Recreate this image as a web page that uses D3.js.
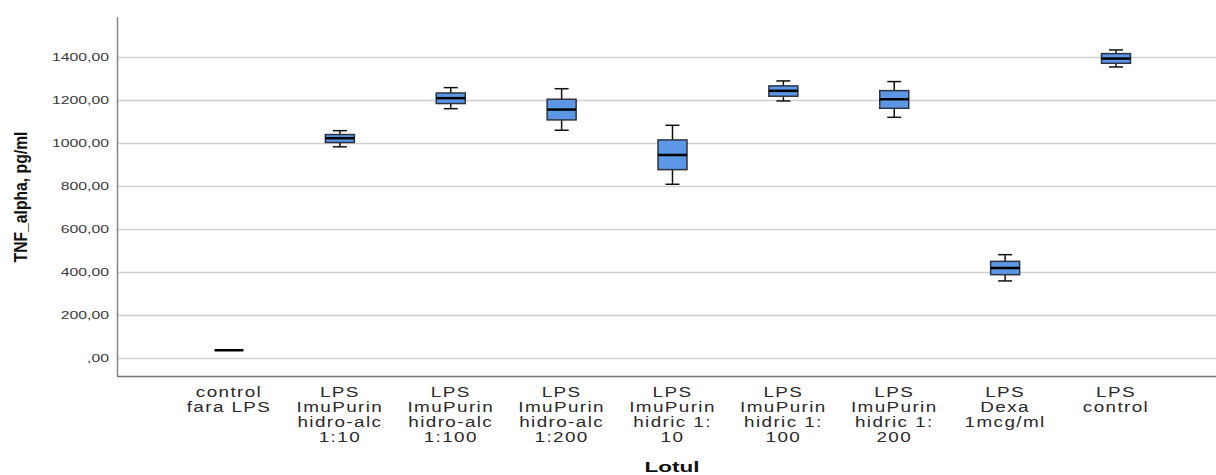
<!DOCTYPE html>
<html>
<head>
<meta charset="utf-8">
<script src="https://cdn.jsdelivr.net/npm/d3@7"></script>
<style>
    body { margin: 0; background: #fff; }
    .tick-label { font-family: "Liberation Sans", Arial, sans-serif; font-size: 11.5px; fill: #3a3a3a; }
    .cat-label { font-family: "Liberation Sans", Arial, sans-serif; font-size: 15px; fill: #2a2a2a; letter-spacing: 1.1px; }
    .axis-title { font-family: "Liberation Sans", Arial, sans-serif; font-weight: bold; fill: #111; }
</style>
</head>
<body>
<div id="chart"></div>
<script>
// categories (each label split into lines as in the picture)
const categories = [
    ["control", "fara LPS"],
    ["LPS", "ImuPurin", "hidro-alc", "1:10"],
    ["LPS", "ImuPurin", "hidro-alc", "1:100"],
    ["LPS", "ImuPurin", "hidro-alc", "1:200"],
    ["LPS", "ImuPurin", "hidric 1:", "10"],
    ["LPS", "ImuPurin", "hidric 1:", "100"],
    ["LPS", "ImuPurin", "hidric 1:", "200"],
    ["LPS", "Dexa", "1mcg/ml"],
    ["LPS", "control"]
];

// box plot statistics
const whiskerLow  = [36, 981, 1158, 1058, 807, 1194, 1118, 358, 1352];
const q1          = [36, 1001, 1182, 1106, 875, 1216, 1160, 387, 1369];
const median      = [36, 1021, 1207, 1154, 943, 1241, 1202, 418, 1391];
const q3          = [36, 1038, 1231, 1202, 1013, 1264, 1242, 449, 1414];
const whiskerHigh = [36, 1056, 1256, 1251, 1081, 1287, 1284, 480, 1431];

const yTicks = [0, 200, 400, 600, 800, 1000, 1200, 1400];
const yLabel = "TNF_alpha, pg/ml";
const xLabel = "Lotul";

const W = 1216, H = 475;
const margin = { top: 17, right: 0, bottom: 99, left: 117 };
const width = W - margin.left - margin.right;
const height = H - margin.top - margin.bottom;

// the original renders its text horizontally stretched
const tickStretch = 1.37, catStretch = 1.26;

const svg = d3.select("#chart").append("svg")
    .attr("width", W)
    .attr("height", H);

const g = svg.append("g")
    .attr("transform", "translate(" + margin.left + "," + margin.top + ")");

const keys = categories.map(c => c.join(" "));
const data = keys.map((k, i) => ({
    key: k, lines: categories[i],
    lo: whiskerLow[i], q1: q1[i], med: median[i], q3: q3[i], hi: whiskerHigh[i]
}));

const x = d3.scalePoint()
    .domain(keys)
    .range([112, 999]);

const y = d3.scaleLinear()
    .domain([-83.6, 1584])
    .range([height, 0]);

// gridlines
g.append("g").selectAll("line")
    .data(yTicks)
    .enter().append("line")
    .attr("x1", 0).attr("x2", width)
    .attr("y1", d => Math.round(y(d)) + 0.5)
    .attr("y2", d => Math.round(y(d)) + 0.5)
    .attr("stroke", "#d0d0d0")
    .attr("stroke-width", 1.5);

// y axis (labels only, no tick marks)
const yAxis = d3.axisLeft(y)
    .tickValues(yTicks)
    .tickSize(0)
    .tickPadding(8)
    .tickFormat(d => d === 0 ? ",00" : d + ",00");

const yg = g.append("g").call(yAxis);
yg.select(".domain").remove();
yg.selectAll("text")
    .attr("class", "tick-label")
    .attr("font-family", null).attr("font-size", null)
    .attr("x", -8 / tickStretch)
    .attr("transform", "scale(" + tickStretch + ",1)");

// axis lines
g.append("line")
    .attr("x1", 0.5).attr("x2", 0.5)
    .attr("y1", 0).attr("y2", height)
    .attr("stroke", "#888").attr("stroke-width", 1.5);
g.append("line")
    .attr("x1", 0).attr("x2", width)
    .attr("y1", height + 0.5).attr("y2", height + 0.5)
    .attr("stroke", "#777").attr("stroke-width", 1.5);

// boxes
const boxW = 29, capW = 14;
const boxes = g.append("g").selectAll("g.box")
    .data(data)
    .enter().append("g")
    .attr("class", "box")
    .attr("transform", d => "translate(" + x(d.key) + ",0)");

boxes.filter(d => d.hi > d.lo).append("line")
    .attr("x1", 0).attr("x2", 0)
    .attr("y1", d => y(d.hi)).attr("y2", d => y(d.lo))
    .attr("stroke", "#111").attr("stroke-width", 1.5);

boxes.filter(d => d.hi > d.lo).selectAll("line.cap")
    .data(d => [d.lo, d.hi])
    .enter().append("line")
    .attr("class", "cap")
    .attr("x1", -capW / 2).attr("x2", capW / 2)
    .attr("y1", v => y(v)).attr("y2", v => y(v))
    .attr("stroke", "#111").attr("stroke-width", 1.5);

boxes.filter(d => d.q3 > d.q1).append("rect")
    .attr("x", -boxW / 2)
    .attr("width", boxW)
    .attr("y", d => y(d.q3))
    .attr("height", d => y(d.q1) - y(d.q3))
    .attr("fill", "#5b97e4")
    .attr("stroke", "#2d3340")
    .attr("stroke-width", 1.5);

boxes.append("line")
    .attr("x1", -boxW / 2).attr("x2", boxW / 2)
    .attr("y1", d => y(d.med)).attr("y2", d => y(d.med))
    .attr("stroke", "#000").attr("stroke-width", 2.5);

// category labels
const labels = g.append("g").selectAll("text")
    .data(data)
    .enter().append("text")
    .attr("class", "cat-label")
    .attr("text-anchor", "middle")
    .attr("transform", d => "translate(" + x(d.key) + "," + (height + 21) + ") scale(" + catStretch + ",1)");

labels.selectAll("tspan")
    .data(d => d.lines)
    .enter().append("tspan")
    .attr("x", 0)
    .attr("dy", (t, i) => i === 0 ? 0 : 15)
    .text(t => t);

// axis titles (y title is tall and condensed in the original)
svg.append("text")
    .attr("class", "axis-title")
    .attr("text-anchor", "middle")
    .attr("font-size", 18.5)
    .attr("transform", "translate(27,197) rotate(-90) scale(0.85,1)")
    .text(yLabel);

svg.append("text")
    .attr("class", "axis-title")
    .attr("text-anchor", "middle")
    .attr("font-size", 15)
    .attr("transform", "translate(672,472) scale(1.5,1)")
    .text(xLabel);
</script>
</body>
</html>
